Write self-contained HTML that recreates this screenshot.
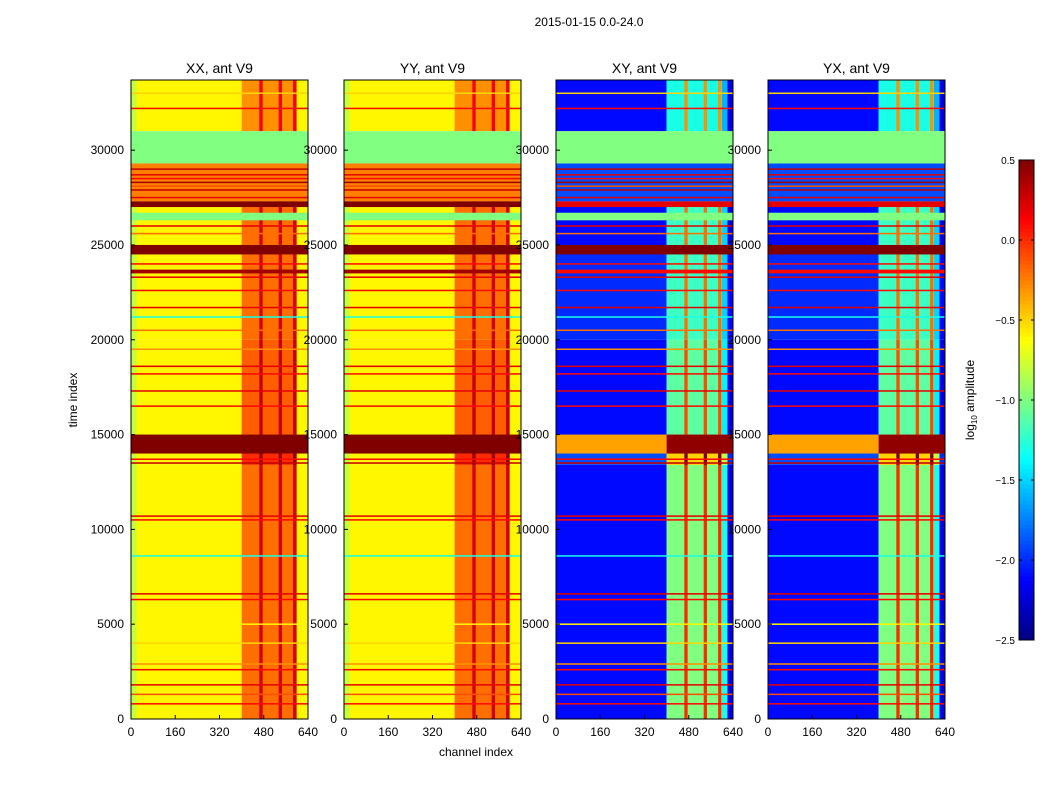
<!DOCTYPE html>
<html><head><meta charset="utf-8"><style>
body{margin:0;background:#fff;font-family:"Liberation Sans",sans-serif;}
svg text{font-family:"Liberation Sans",sans-serif;}
</style></head><body>
<svg id="fig" width="1050" height="800" xmlns="http://www.w3.org/2000/svg">
<rect width="1050" height="800" fill="#fff"/>
<text x="589" y="26" font-size="12" text-anchor="middle">2015-01-15 0.0-24.0</text>
<text x="476" y="756" font-size="12" text-anchor="middle">channel index</text>
<text transform="translate(77,400) rotate(-90)" font-size="12" text-anchor="middle">time index</text>
<g id="panels"></g>
<g id="cbar"></g>
</svg>
<script>
// ---- data ----
const panelTitles=["XX, ant V9","YY, ant V9","XY, ant V9","YX, ant V9"];
const panelIsCross=[false,false,true,true];
const bandStart=[0,13400,15000,20000,25000,31000];
const bandEnd=[13400,15000,20000,25000,27300,33700];
const parLow=[-0.6,-0.6,-0.6,-0.6,-0.6,-0.6];
const parHigh=[-0.2,0.0,-0.15,-0.2,-0.2,-0.3];
const crossLow=[-2.1,-1.9,-2.1,-2.0,-2.1,-2.1];
const crossHigh=[-1.0,-0.5,-1.1,-1.2,-1.2,-1.3];
const ovStart=[27300,14000,24500,26300,27000,29300,23500];
const ovEnd=[29300,15000,25000,26700,27300,31000,23700];
const ovPar=[-0.25,0.5,0.5,-1.0,0.5,-1.0,0.4];
const ovCross=[-1.9,-0.35,0.5,-1.0,0.2,-1.0,0.1];
const stripeChan=[470,540,592];
const stripeDelta=[0.45,0.45,0.45];
const lineTime=[800,1300,1800,2600,2900,4000,5000,6300,6600,8600,10500,10700,13500,13700,16500,17300,18200,18600,19500,20500,21200,21700,22600,23300,24000,25600,26000,27500,27900,28100,28300,28500,28700,29000,32200,33000];
const lineVal=[0.1,-0.1,0.2,0.1,-0.3,-0.5,-0.6,0.1,0.2,-1.3,0.1,0.2,0.3,0.1,0.1,0.2,0.1,0.2,-0.3,-0.2,-1.3,0.2,0.1,0.2,0.1,-0.2,0.2,0.2,0.3,-0.1,0.4,0.1,0.2,0.3,0.1,-0.5];
const xTicks=[0,160,320,480,640];
const yTicks=[0,5000,10000,15000,20000,25000,30000];
const cbTicks=[0.5,0.0,-0.5,-1.0,-1.5,-2.0,-2.5];
// ---- helpers ----
const NS="http://www.w3.org/2000/svg";
const panelX=[131,344,556,768], PW=177, PT=80, PB=719, TMAX=33700, CMAX=640;
function jet(v){let t=(v+2.5)/3;t=Math.max(0,Math.min(1,t));
 const f=x=>Math.max(0,Math.min(1,x));
 const r=f(Math.min(4*t-1.5,-4*t+4.5)),g=f(Math.min(4*t-0.5,-4*t+3.5)),b=f(Math.min(4*t+0.5,-4*t+2.5));
 return `rgb(${Math.round(r*255)},${Math.round(g*255)},${Math.round(b*255)})`;}
function mk(tag,attrs,parent){const e=document.createElementNS(NS,tag);for(const k in attrs)e.setAttribute(k,attrs[k]);parent.appendChild(e);return e;}
function yS(t){return PB-(t/TMAX)*(PB-PT);}
const G=document.getElementById('panels');
panelX.forEach((x0,p)=>{
 const xS=c=>x0+c/CMAX*PW;
 const cross=panelIsCross[p];
 const g=mk('g',{},G);
 
 
 function cell(c0,c1,t0,t1,v){const r=mk('rect',{x:xS(c0),y:yS(t1),width:xS(c1)-xS(c0),height:Math.max(1,yS(t0)-yS(t1)),fill:jet(v)},g);
  
  }
 for(let i=0;i<bandStart.length;i++){
  const lo=cross?crossLow[i]:parLow[i], hi=cross?crossHigh[i]:parHigh[i];
  cell(0,400,bandStart[i],bandEnd[i],lo);
  cell(400,600,bandStart[i],bandEnd[i],hi);
  if(cross){cell(600,620,bandStart[i],bandEnd[i],hi-0.3);cell(620,640,bandStart[i],bandEnd[i],lo-0.1);}
  else cell(600,640,bandStart[i],bandEnd[i],lo);
  if(!cross)cell(0,20,bandStart[i],bandEnd[i],lo-0.2);
  for(let s=0;s<stripeChan.length;s++)cell(stripeChan[s]-6,stripeChan[s]+6,bandStart[i],bandEnd[i],hi+(cross?1.0:stripeDelta[s]));
 }
 for(let i=0;i<ovStart.length;i++)cell(0,640,ovStart[i],ovEnd[i],cross?ovCross[i]:ovPar[i]);
 if(cross)cell(400,640,14000,15000,0.45);
 for(let i=0;i<lineTime.length;i++)cell(0,640,lineTime[i]-40,lineTime[i]+40,lineVal[i]);
 const fr=mk('rect',{x:x0,y:PT,width:PW,height:PB-PT,fill:'none',stroke:'#000','stroke-width':1},g);
 
 
 const tt=mk('text',{x:x0+PW/2,y:PT-7,'font-size':14,'text-anchor':'middle'},g);tt.textContent=panelTitles[p];
 
 
 xTicks.forEach(v=>{const x=xS(v);mk('line',{x1:x,x2:x,y1:PB,y2:PB-4,stroke:'#000'},g);
  const t=mk('text',{x:x,y:PB+17,'font-size':12,'text-anchor':'middle'},g);t.textContent=v;
  
  });
 yTicks.forEach(v=>{const y=yS(v);mk('line',{x1:x0,x2:x0+4,y1:y,y2:y,stroke:'#000'},g);
  const t=mk('text',{x:x0-7,y:y+4,'font-size':12,'text-anchor':'end'},g);t.textContent=v;
  
  });
});
// colorbar
const C=document.getElementById('cbar');


const CB0=160,CB1=640,cbX=1019,cbW=15;
const cy=v=>CB1-(v+2.5)/3*(CB1-CB0);
for(let i=0;i<120;i++){const v=-2.5+3*i/120;mk('rect',{x:cbX,y:cy(v+3/120),width:cbW,height:(CB1-CB0)/120+0.5,fill:jet(v+1.5/120)},C);}
mk('rect',{x:cbX,y:CB0,width:cbW,height:CB1-CB0,fill:'none',stroke:'#000'},C);
cbTicks.forEach(v=>{const y=cy(v);mk('line',{x1:cbX,x2:cbX+3,y1:y,y2:y,stroke:'#000'},C);mk('line',{x1:cbX+cbW-3,x2:cbX+cbW,y1:y,y2:y,stroke:'#000'},C);
 const t=mk('text',{x:cbX-4,y:y+4,'font-size':10,'text-anchor':'end'},C);t.textContent=v.toFixed(1).replace('-','\u2212');
 
 });
const lab=mk('text',{transform:'translate(974,400) rotate(-90)','font-size':12,'text-anchor':'middle'},C);
lab.innerHTML='log<tspan font-size="8" dy="3">10</tspan><tspan dy="-3"> amplitude</tspan>';


</script>
</body></html>
